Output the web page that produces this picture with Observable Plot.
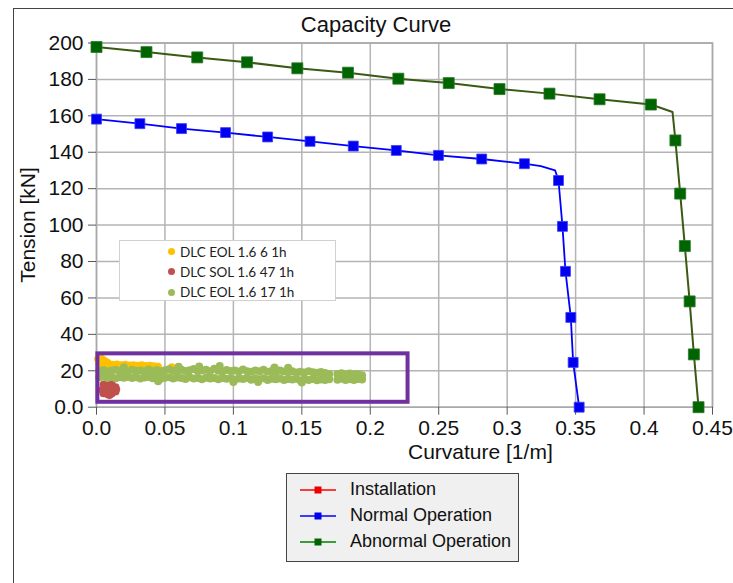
<!DOCTYPE html>
<html><head><meta charset="utf-8">
<script src="https://cdn.jsdelivr.net/npm/d3@7"></script>
<script src="https://cdn.jsdelivr.net/npm/@observablehq/plot@0.6"></script>
<style>
body{margin:0;background:#fff;}
#wrap{position:relative;width:733px;height:583px;overflow:hidden;font-family:"Liberation Sans",Arial,sans-serif;background:#fff;}
#chart{position:absolute;left:0;top:0;}
#frame{position:absolute;left:13px;top:8px;width:800px;height:700px;border:1.5px solid #444;box-sizing:border-box;}
.abs{position:absolute;white-space:nowrap;color:#111;}
#title{left:0;width:752px;top:12px;text-align:center;font-size:22px;}
#xlabel{left:408px;top:440px;font-size:21px;}
#ylabel{left:28px;top:225px;font-size:21px;transform:translate(-50%,-50%) rotate(-90deg);}
#leg1{position:absolute;left:119px;top:240px;width:217px;height:61px;border:1px solid #d0d0d0;background:#fff;box-sizing:border-box;font-family:Lato,"Open Sans",sans-serif;font-size:13.5px;color:#222;}
#leg1 .row{position:absolute;left:60px;height:20px;line-height:20px;}
#leg1 .dot{position:absolute;left:-12px;top:6.5px;width:7px;height:7px;border-radius:50%;}
#leg2{position:absolute;left:286px;top:473px;width:233px;height:89px;border:1.5px solid #444;background:#f0f0f0;box-sizing:border-box;font-size:18px;color:#111;}
#leg2 .row{position:absolute;left:13px;height:22px;}
#leg2 .row span{position:absolute;left:50px;top:0px;white-space:nowrap;}
</style></head>
<body>
<div id="wrap">
  <div id="chart"></div>
  <div id="frame"></div>
  <div id="title" class="abs">Capacity Curve</div>
  <div id="xlabel" class="abs">Curvature [1/m]</div>
  <div id="ylabel" class="abs">Tension [kN]</div>
  <div id="leg1"></div>
  <div id="leg2"></div>
</div>
<script>
// ---- tick labels ----
const xTicks = [0, 0.05, 0.1, 0.15, 0.2, 0.25, 0.3, 0.35, 0.4, 0.45];
const yTicks = [0, 20, 40, 60, 80, 100, 120, 140, 160, 180, 200];

// ---- Normal Operation capacity curve (marked: 1 = square marker) ----
const normalCurv    = [0, 0.0317, 0.0621, 0.0943, 0.125, 0.156, 0.1876, 0.219, 0.2498, 0.2814, 0.3126, 0.3246, 0.335, 0.3375, 0.3404, 0.3426, 0.3465, 0.3482, 0.3526];
const normalTension = [158.2, 155.7, 153, 150.8, 148.4, 146, 143.4, 141, 138.3, 136.3, 133.7, 132.4, 130.1, 124.5, 99.3, 74.6, 49.3, 24.6, 0];
const normalMarked  = [1,1,1,1,1,1,1,1,1,1,1,0,0,1,1,1,1,1,1];

// ---- Abnormal Operation capacity curve ----
const abnormalCurv    = [0, 0.0365, 0.0736, 0.110, 0.1467, 0.1837, 0.2205, 0.2573, 0.2944, 0.3309, 0.3675, 0.405, 0.4208, 0.4229, 0.4264, 0.4298, 0.4333, 0.4364, 0.4398];
const abnormalTension = [197.8, 195, 192.1, 189.4, 186.1, 183.7, 180.4, 178, 174.7, 172.2, 169.1, 166.2, 162.1, 146.5, 117.3, 88.5, 58.1, 29, 0];
const abnormalMarked  = [1,1,1,1,1,1,1,1,1,1,1,1,0,1,1,1,1,1,1];

// ---- DLC EOL 1.6 6 1h (yellow cloud) ----
const eol6Curv    = [0.001,0.003,0.005,0.007,0.002,0.004,0.006,0.009,0.012,0.015,0.018,0.021,0.024,0.027,0.030,0.033,0.036,0.039,0.042,0.045,0.055,0.0105,0.020,0.030,0.040,0.008,0.004];
const eol6Tension = [26.5,27.2,26.0,25.0,24.0,23.5,22.5,23.8,23.4,23.6,23.2,23.4,23.0,23.2,22.9,23.1,22.7,22.9,22.6,22.3,22.0,21.8,21.6,21.5,21.4,24.5,25.5];

// ---- DLC SOL 1.6 47 1h (red cloud) ----
const sol47Curv    = [0.005,0.005,0.005,0.008,0.008,0.008,0.008,0.011,0.011,0.011,0.011,0.014,0.014,0.0145,0.0065,0.0095,0.0125,0.004,0.0095];
const sol47Tension = [7.5,10.0,12.5,7.0,9.5,12.0,13.6,7.3,9.8,12.3,13.5,8.5,11.0,9.8,11.0,11.0,10.5,9.5,6.5];

// ---- DLC EOL 1.6 17 1h (green cloud): column curvature with upper / lower edge tensions ----
const eol17Curv = [
  0.002,0.005,0.008,0.011,0.014,0.017,0.020,0.023,0.026,0.029,
  0.032,0.035,0.038,0.041,0.044,0.047,0.050,0.053,0.056,0.059,
  0.062,0.065,0.068,0.071,0.074,0.077,0.080,0.083,0.086,0.089,
  0.092,0.095,0.098,0.101,0.104,0.107,0.110,0.113,0.116,0.119,
  0.122,0.125,0.128,0.131,0.134,0.137,0.140,0.143,0.146,0.149,
  0.152,0.155,0.158,0.161,0.164,0.167,0.170,
  0.176,0.179,0.182,0.185,0.188,0.191,0.194];
const eol17Upper = [
  19.9,20.4,19.7,20.2,20.5,19.8,20.3,19.6,20.6,20.0,
  20.2,19.7,20.7,19.9,20.4,19.8,20.3,20.8,20.0,19.6,
  20.5,19.9,20.3,21.0,19.7,20.2,20.6,19.8,21.1,20.0,
  19.5,20.4,19.9,20.2,19.6,20.7,19.8,19.4,20.1,19.7,
  20.5,19.4,19.9,19.3,20.2,19.6,19.2,19.8,19.1,19.5,
  19.0,19.7,19.2,18.9,19.3,18.8,18.3,
  18.2,18.7,18.0,18.5,17.9,18.3,17.6];
const eol17Lower = [
  16.5,16.7,16.1,16.6,15.9,16.4,16.2,16.6,16.0,16.5,
  15.8,16.3,16.6,15.9,16.4,15.6,16.2,16.5,15.7,16.3,
  16.0,15.5,16.4,15.8,16.1,15.4,16.2,15.7,16.0,15.3,
  16.1,15.6,15.9,15.2,15.8,15.5,16.0,15.1,15.7,15.4,
  15.9,15.0,15.6,15.3,15.7,14.9,15.5,15.2,15.6,14.7,
  15.3,15.0,15.5,14.8,15.2,15.0,15.3,
  15.1,15.6,14.9,15.4,15.0,15.5,15.2];
const eol17ExtraCurv    = [0.020,0.060,0.090,0.130,0.100,0.150,0.045,0.075,0.118,0.140];
const eol17ExtraTension = [21.9,22.2,22.6,21.8,13.8,13.6,14.2,22.3,13.9,21.6];

// ---- highlight box around the load-case clouds ----
const boxCurv    = [0.001, 0.2276];
const boxTension = [2.7, 29.3];

// ---- legends ----
const cloudLegend = ["DLC EOL 1.6 6 1h", "DLC SOL 1.6 47 1h", "DLC EOL 1.6 17 1h"];
const cloudColors = ["#FFC000", "#C0504D", "#9BBB59"];
const curveLegend = ["Installation", "Normal Operation", "Abnormal Operation"];
const curveLineColors = ["#ff0000", "#0000ff", "#008000"];
const curveMarkColors = ["#ee0000", "#0000ee", "#006400"];

const toRows = (xs, ys, m) => xs.map((x, i) => ({x, y: ys[i], m: m ? m[i] : 1}));
const normal = toRows(normalCurv, normalTension, normalMarked);
const abnormal = toRows(abnormalCurv, abnormalTension, abnormalMarked);
const eol6 = toRows(eol6Curv, eol6Tension);
const sol47 = toRows(sol47Curv, sol47Tension);
const eol17 = [
  ...toRows(eol17Curv, eol17Upper),
  ...toRows(eol17Curv, eol17Lower),
  ...toRows(eol17ExtraCurv, eol17ExtraTension)
];
const box = [{x1: boxCurv[0], x2: boxCurv[1], y1: boxTension[0], y2: boxTension[1]}];

const fmt = d => d === 0 ? "0.0" : String(d);

const chart = Plot.plot({
  width: 733, height: 583,
  marginLeft: 96, marginRight: 21, marginTop: 42.5, marginBottom: 176.3,
  x: {domain: [0, 0.45]},
  y: {domain: [0, 200]},
  style: {fontFamily: "'Liberation Sans', Arial, sans-serif", fontSize: "21px", color: "#111", background: "transparent"},
  marks: [
    Plot.gridX(xTicks, {stroke: "#b4b4b4", strokeOpacity: 1, strokeWidth: 1.5}),
    Plot.gridY(yTicks, {stroke: "#b4b4b4", strokeOpacity: 1, strokeWidth: 1.5}),
    Plot.frame({stroke: "#a8a8a8", strokeWidth: 1.5}),
    Plot.axisX(xTicks, {tickSize: 8, tickPadding: 5, label: null, stroke: "#555", tickFormat: fmt, fontSize: 21}),
    Plot.axisY(yTicks, {tickSize: 8, tickPadding: 5, label: null, stroke: "#555", tickFormat: fmt, fontSize: 21}),
    Plot.dot(eol6, {x: "x", y: "y", r: 3.8, fill: cloudColors[0]}),
    Plot.dot(sol47, {x: "x", y: "y", r: 3.8, fill: cloudColors[1]}),
    Plot.dot(eol17, {x: "x", y: "y", r: 4, fill: cloudColors[2]}),
    Plot.rect(box, {x1: "x1", x2: "x2", y1: "y1", y2: "y2", fill: "none", stroke: "#7030A0", strokeWidth: 4}),
    Plot.line(normal, {x: "x", y: "y", stroke: "#0000ff", strokeWidth: 1.8}),
    Plot.dot(normal.filter(d => d.m), {x: "x", y: "y", symbol: "square", r: 5.6, fill: "#0000ee", stroke: "#3b3bff", strokeWidth: 0.8}),
    Plot.line(abnormal, {x: "x", y: "y", stroke: "#3a5a14", strokeWidth: 2}),
    Plot.dot(abnormal.filter(d => d.m), {x: "x", y: "y", symbol: "square", r: 6.2, fill: "#006400", stroke: "#2a7a2a", strokeWidth: 0.8})
  ]
});
document.getElementById("chart").appendChild(chart);

// inner (cloud) legend
const leg1 = document.getElementById("leg1");
cloudLegend.forEach((t, i) => {
  const row = document.createElement("div");
  row.className = "row";
  row.style.top = (0.5 + i * 20.3) + "px";
  row.innerHTML = `<div class="dot" style="background:${cloudColors[i]}"></div>${t}`;
  leg1.appendChild(row);
});

// bottom (curve) legend
const leg2 = document.getElementById("leg2");
curveLegend.forEach((t, i) => {
  const row = document.createElement("div");
  row.className = "row";
  row.style.top = (5 + i * 26.2) + "px";
  row.innerHTML = `<svg width="40" height="22" style="position:absolute;left:0;top:0">
      <line x1="0" y1="11" x2="36" y2="11" stroke="${curveLineColors[i]}" stroke-width="1.5"/>
      <rect x="14.5" y="7.5" width="7" height="7" fill="${curveMarkColors[i]}"/></svg><span>${t}</span>`;
  leg2.appendChild(row);
});
</script>
</body></html>
